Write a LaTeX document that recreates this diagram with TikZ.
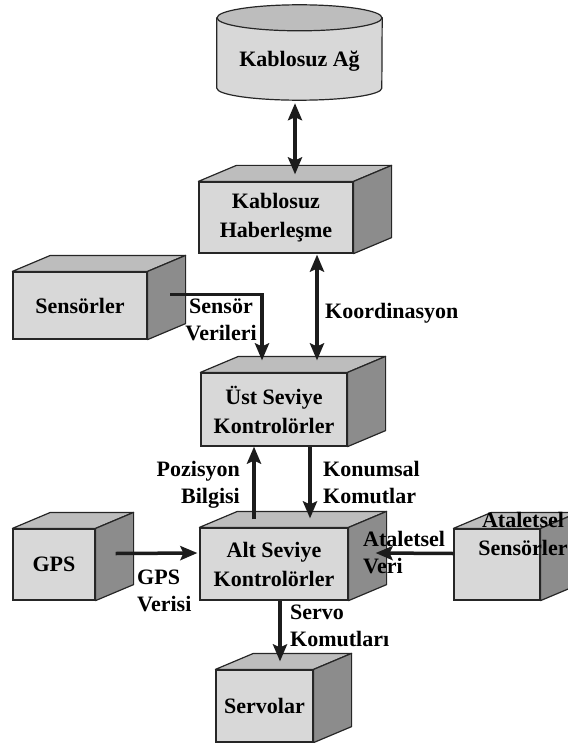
\documentclass[tikz,border=0pt]{standalone}
\usepackage{fontspec}
\setmainfont{Liberation Serif}
\usetikzlibrary{arrows.meta,backgrounds}
\definecolor{frontgray}{HTML}{D8D8D8}
\definecolor{topgray}{HTML}{BDBDBD}
\definecolor{sidegray}{HTML}{8C8C8C}
\definecolor{edgegray}{HTML}{262626}
\definecolor{arrowblack}{HTML}{1C1C1C}

\begin{document}
\begin{tikzpicture}[x=1pt,y=-1pt]
\tikzstyle{box} = [rectangle,draw=edgegray,fill=frontgray,line width=1.2pt,
inner sep=2pt,align=center,font=\fontsize{22}{29}\selectfont\bfseries]
\tikzstyle{face} = [draw=edgegray,line width=1.2pt,line join=round]
\tikzstyle{lbl} = [inner sep=0pt,font=\fontsize{22}{27}\selectfont\bfseries]
\tikzstyle{arr} = [-{Stealth[length=17pt,width=14pt,inset=3pt]},line width=3.5pt,draw=arrowblack]
\tikzstyle{dbl} = [{Stealth[length=17pt,width=14pt,inset=3pt]}-{Stealth[length=17pt,width=14pt,inset=3pt]},
line width=3.5pt,draw=arrowblack]
\useasboundingbox (0,0) rectangle (567,743);

% cylinder
\node (ag) at (299.5,59) [minimum width=165pt,minimum height=82pt,inner sep=0pt,text depth=0pt,
font=\fontsize{22}{27}\selectfont\bfseries] {Kablosuz Ağ};
\begin{scope}[on background layer]
\draw[face,fill=frontgray] (ag.north west) -- ([yshift=12pt]ag.south west)
  arc[start angle=180,end angle=360,x radius=82.5pt,y radius=12pt] -- (ag.north east) -- cycle;
\draw[face,fill=topgray] (ag.north) ellipse [x radius=82.5pt,y radius=13pt];
\end{scope}

% boxes
\node (habr) at (276,217.5) [box,minimum width=154pt,minimum height=71pt] {Kablosuz\\Haberleşme};
\node (sens) at (80,305.5) [box,minimum width=134pt,minimum height=67pt] {Sensörler};
\node (ust) at (274,409.5) [box,minimum width=146pt,minimum height=73pt] {Üst Seviye\\Kontrolörler};
\node (gps) at (54,564.5) [box,minimum width=82pt,minimum height=71pt] {GPS};
\node (alt) at (274,564) [box,minimum width=148pt,minimum height=72pt] {Alt Seviye\\Kontrolörler};
\node (atal) at (497,564.5) [box,minimum width=86pt,minimum height=71pt] {};
\node (servo) at (264.5,706) [box,minimum width=97pt,minimum height=72pt] {Servolar};

\foreach \n in {habr,sens,ust,gps,alt,atal,servo} {
  \draw[face,fill=topgray] (\n.north west) -- ++(38,-16) -- ([shift={(38,-16)}]\n.north east)
    -- (\n.north east) -- cycle;
  \draw[face,fill=sidegray] (\n.north east) -- ++(38,-16) -- ([shift={(38,-16)}]\n.south east)
    -- (\n.south east) -- cycle;
}

% connectors
\draw[dbl] ([xshift=-4.5pt,yshift=-3pt]ag.south) -- ([xshift=19pt,yshift=7pt]habr.north);
\draw[dbl] ([xshift=41pt,yshift=-1pt]habr.south) -- ([xshift=43pt,yshift=12pt]ust.north);
\draw[arr] ([xshift=90pt,yshift=-23pt]sens.north) -| ([xshift=-12pt,yshift=12pt]ust.north);
\draw[arr] ([xshift=-20pt,yshift=8pt]alt.north) -- ([xshift=-20pt]ust.south);
\draw[arr] ([xshift=36pt]ust.south) -- ([xshift=36pt,yshift=9pt]alt.north);
\draw[arr] ([xshift=20pt,yshift=11pt]gps.east) -- ([xshift=-2pt,yshift=11pt]alt.east -| alt.west);
\draw[arr] ([yshift=11pt]atal.west) -- ([xshift=27pt,yshift=11pt]alt.east);
\draw[arr] ([xshift=6pt]alt.south) -- ([xshift=15.5pt,yshift=8pt]servo.north);

% labels
\node (koord) at (325,318) [lbl,anchor=base west] {Koordinasyon};
\node (sensVeri) at (221,320) [lbl,align=center] {Sensör\\Verileri};
\node (pozBilgi) at (240,485) [lbl,align=right,anchor=east] {Pozisyon\\Bilgisi};
\node (konKomut) at (323,482) [lbl,align=left,anchor=west] {Konumsal\\Komutlar};
\node (gpsVeri) at (137,591) [lbl,align=left,anchor=west] {GPS\\Verisi};
\node (atalVeri) at (363,553) [lbl,align=left,anchor=west] {Ataletsel\\Veri};
\node (servoKomut) at (290,626) [lbl,align=left,anchor=west] {Servo\\Komutları};
\node (atalText) at (523,534) [lbl,align=center,font=\fontsize{22}{28}\selectfont\bfseries] {Ataletsel\\Sensörler};
\end{tikzpicture}
\end{document}
